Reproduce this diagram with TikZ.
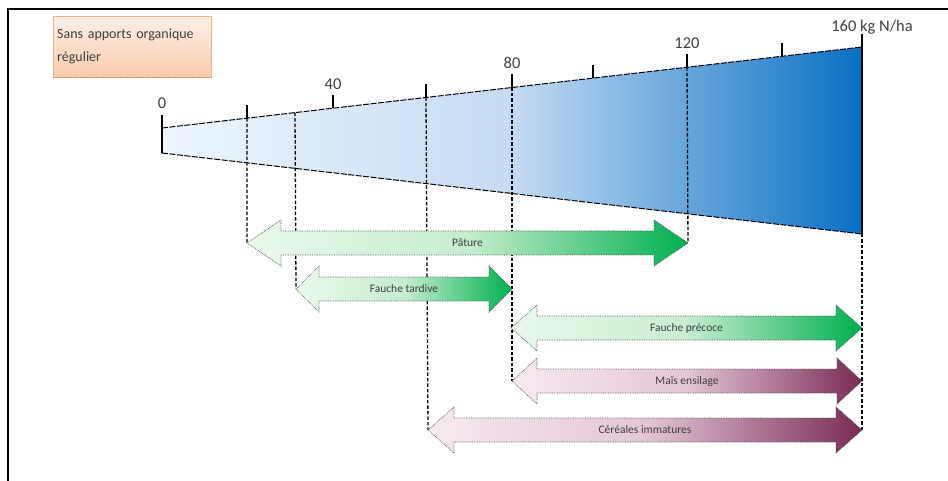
\documentclass[tikz,border=0pt]{standalone}
\usepackage{fontspec}
\setmainfont{Carlito}
\usetikzlibrary{calc}

\definecolor{wedgeL}{HTML}{EEF6FD}
\definecolor{wedgeM}{HTML}{C4DBF3}
\definecolor{wedgeR}{HTML}{0A70C2}
\definecolor{greenL}{HTML}{EAF9EC}
\definecolor{greenM}{HTML}{C6EDCF}
\definecolor{greenR}{HTML}{00B050}
\definecolor{pinkL}{HTML}{F8EAF1}
\definecolor{pinkM}{HTML}{E2C6D4}
\definecolor{pinkR}{HTML}{7A2B55}
\definecolor{noteT}{HTML}{FDF0E8}
\definecolor{noteB}{HTML}{FBCBAB}
\definecolor{noteline}{HTML}{F4B183}
\definecolor{inkgray}{HTML}{3F3F3F}

\tikzset{
  frame/.style={line width=1.4pt},
  tickmark/.style={line width=1.3pt},
  guide/.style={line width=1.3pt, dash pattern=on 3.5pt off 2pt},
  wedgeedge/.style={line width=1pt, dash pattern=on 6pt off 1.5pt},
  arrowbox/.style={draw=black!70, densely dotted, line width=0.7pt},
  arrowtext/.style={font=\fontsize{11.5}{13}\selectfont, text=inkgray},
  scalelabel/.style={font=\fontsize{16.5}{18}\selectfont, text=inkgray, anchor=base},
  notebox/.style={draw=noteline, top color=noteT, bottom color=noteB,
    anchor=north west, minimum width=158pt, minimum height=61pt,
    text width=150pt, inner xsep=4pt, align=left, text=inkgray,
    font=\fontsize{14}{23}\selectfont}
}

% block arrow with two heads: name, left tip x, right tip x, y, head length, colours, text
\newcommand{\bandarrow}[9]{%
  \shade[arrowbox, left color=#6, right color=#8, middle color=#7]
    (#2,#4) -- (#2+#5,#4-23) -- (#2+#5,#4-12) -- (#3-#5,#4-12) -- (#3-#5,#4-23)
    -- (#3,#4) -- (#3-#5,#4+23) -- (#3-#5,#4+12) -- (#2+#5,#4+12) -- (#2+#5,#4+23) -- cycle;
  \coordinate (#1-l) at (#2,#4);
  \coordinate (#1-r) at (#3,#4);
  \node[arrowtext] (#1) at ($(#1-l)!0.5!(#1-r)$) {#9};
}

\begin{document}
\begin{tikzpicture}[x=1pt, y=-1pt]
    \useasboundingbox (0,0) rectangle (948,481);

    % frame (top and left only)
    \draw[frame] (8,481) -- (8,9) -- (948,9);

    % note box
    \node[notebox] (note) at (53,16) {Sans apports organique\\régulier};
    \draw[densely dotted, line width=0.8pt, noteline!80!black] (note.south west) -- (note.south east);

    % wedge of nitrogen doses
    \coordinate (w0) at (162,128);
    \coordinate (w160) at (862,47);
    \coordinate (b0) at (162,153);
    \coordinate (b160) at (862,234);
    \shade[left color=wedgeL, right color=wedgeR, middle color=wedgeM] (w0) -- (w160) -- (b160) -- (b0) -- cycle;
    \draw[wedgeedge] (w0) -- (w160);
    \draw[wedgeedge] (b0) -- (b160);

    % ticks on the top edge
    \foreach \x/\n in {162/t0,247/t20,333/t40,426/t60,512/t80,593/t100,687/t120,782/t140,862/t160} {
        \coordinate (\n) at ($(w0)!{(\x-162)/700}!(w160)$);
        \draw[tickmark] (\n) -- ++(0,-13);
    }
    \coordinate (t30) at ($(w0)!{(295-162)/700}!(w160)$);
    \draw[tickmark] (t0) -- (b0);
    \draw[line width=1.6pt] (t160) -- (b160);

    % scale labels
    \node[scalelabel] (l0) at ($(t0)+(0,-19)$) {0};
    \node[scalelabel] (l40) at ($(t40)+(0,-19)$) {40};
    \node[scalelabel] (l80) at ($(t80)+(0,-19)$) {80};
    \node[scalelabel] (l120) at ($(t120)+(0,-19)$) {120};
    \node[scalelabel] (l160) at ($(t160)+(10,-15)$) {160 kg N/ha};

    % tip points of the arrows (needed for the guides)
    \coordinate (pat-l) at (247,243);
    \coordinate (pat-r) at (688,243);
    \coordinate (ftar-l) at (296,289);
    \coordinate (mais-l) at (512,381);
    \coordinate (cer-l) at (428,430);
    \coordinate (cer-r) at (862,430);

    % dashed guides
    \draw[guide] (t20) -- (pat-l);
    \draw[guide] (t30) -- (ftar-l);
    \draw[guide] (t60) -- (cer-l);
    \draw[guide] (t80) -- (mais-l);
    \draw[guide] (t120) -- (pat-r);
    \draw[guide] (b160) -- (cer-r);

    % use periods
    \bandarrow{pat}{247}{688}{243}{34}{greenL}{greenM}{greenR}{Pâture}
    \bandarrow{ftar}{296}{512}{289}{23}{greenL}{greenM}{greenR}{Fauche tardive}
    \bandarrow{fpre}{511}{862}{328}{26}{greenL}{greenM}{greenR}{Fauche précoce}
    \bandarrow{mais}{512}{862}{381}{25}{pinkL}{pinkM}{pinkR}{Maïs ensilage}
    \bandarrow{cer}{428}{862}{430}{26}{pinkL}{pinkM}{pinkR}{Céréales immatures}

\end{tikzpicture}
\end{document}
